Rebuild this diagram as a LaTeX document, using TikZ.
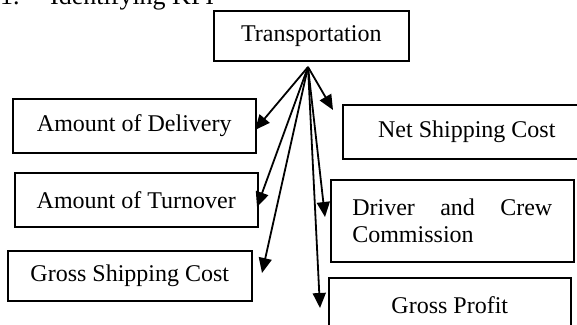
\documentclass[tikz,border=0pt]{standalone}
\usepackage{fontspec}
\setmainfont{Liberation Serif}
\usetikzlibrary{arrows.meta}
\begin{document}
\begin{tikzpicture}[x=1pt,y=-1pt,
  kbox/.style={draw, line width=1.6pt, inner sep=0pt, anchor=north west,
    font=\fontsize{24}{27.6}\selectfont},
  link/.style={line width=1.8pt, -{Triangle[length=15pt,width=13pt]}}]
\useasboundingbox (0,0) rectangle (577,324);
\clip (0,0) rectangle (577,324);

% heading
\node[anchor=base west, inner sep=0pt, font=\fontsize{26}{30}\selectfont]
  (title) at (0,5) {\makebox[50pt][l]{1.}Identifying KPI};

% KPI boxes
\node[kbox, minimum width=195pt, minimum height=50pt] (trans) at (213,10) {Transportation};
\node[kbox, minimum width=243pt, minimum height=54pt] (deliv) at (12,98) {Amount of Delivery};
\node[kbox, minimum width=243pt, minimum height=54pt] (turn) at (14,172) {Amount of Turnover};
\node[kbox, minimum width=244pt, minimum height=50pt] (gship) at (7,250) {Gross Shipping Cost};
\node[kbox, minimum width=248pt, minimum height=54pt] (nship) at (342,104) {Net Shipping Cost};
\node[kbox, minimum width=243pt, minimum height=82pt, text width=200pt, align=left] (crew) at (330,179)
  {\leavevmode\hbox to 200pt{Driver\hfill and\hfill Crew}\\Commission};
\node[kbox, minimum width=242pt, minimum height=54pt] (gprof) at (328,277) {Gross Profit};

% fan of arrows
\coordinate (hub) at (308,67);
\coordinate (tdeliv) at (255,130);
\coordinate (tturn) at (257,207);
\coordinate (tgship) at (262,273);
\coordinate (tnship) at (333,110);
\coordinate (tcrew) at (325,217);
\coordinate (tgprof) at (320,308);

\draw[link] (hub) -- (tdeliv);
\draw[link] (hub) -- (tturn);
\draw[link] (hub) -- (tgship);
\draw[link] (hub) -- (tnship);
\draw[link] (hub) -- (tcrew);
\draw[link] (hub) -- (tgprof);
\end{tikzpicture}
\end{document}
